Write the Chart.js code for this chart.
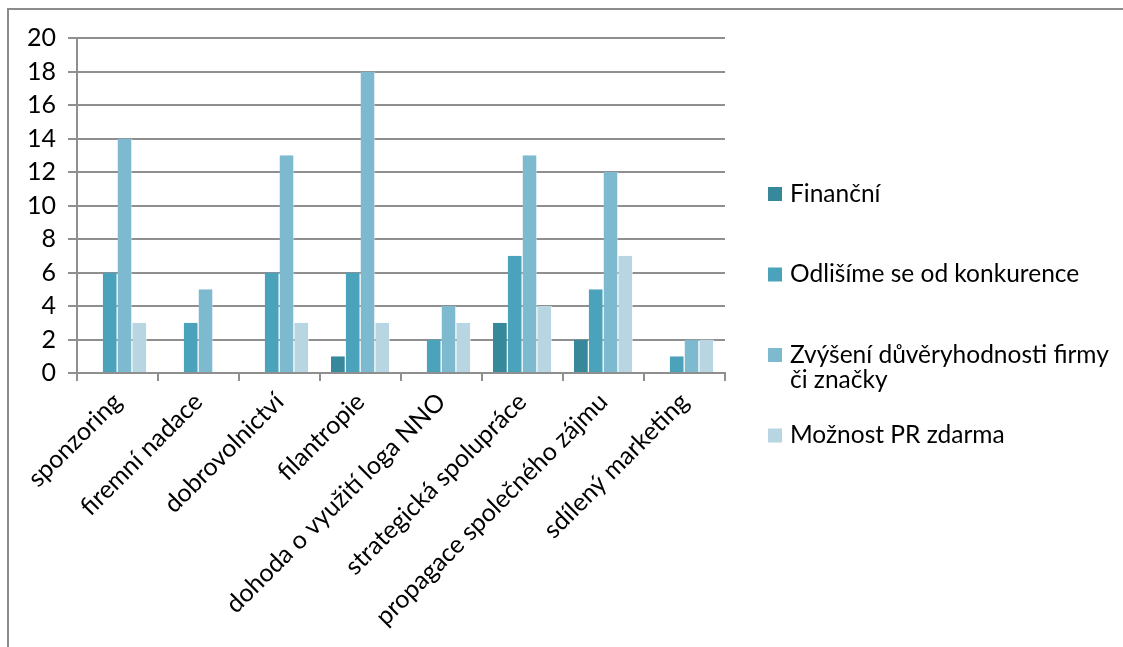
<!DOCTYPE html>
<html lang="cs">
<head>
<meta charset="utf-8">
<title>Přínosy spolupráce</title>
<script src="https://cdn.jsdelivr.net/npm/chart.js@4.4.1/dist/chart.umd.min.js"></script>
<style>
  html, body { margin: 0; padding: 0; background: #fff; }
  #wrap { position: relative; width: 1123px; height: 647px; overflow: hidden; }
  #frame {
    position: absolute; left: 7px; top: 8px; right: -10px; bottom: -10px;
    border-left: 2px solid #8c8c8c; border-top: 2px solid #8c8c8c;
    pointer-events: none;
  }
  canvas { position: absolute; left: 0; top: 0; }
</style>
</head>
<body>
<div id="wrap">
  <canvas id="chart" width="1123" height="647"></canvas>
  <div id="frame"></div>
</div>
<script>
// ============ DATA ============
const categories = [
  "sponzoring", "firemní nadace", "dobrovolnictví", "filantropie",
  "dohoda o využití loga NNO", "strategická spolupráce",
  "propagace společného zájmu", "sdílený marketing"
];
const seriesNames = [
  "Finanční", "Odlišíme se od konkurence",
  "Zvýšení důvěryhodnosti firmy či značky", "Možnost PR zdarma"
];
const financni   = [0, 0, 0, 1, 0, 3, 2, 0];
const odlisime   = [6, 3, 6, 6, 2, 7, 5, 1];
const duveryhodn = [14, 5, 13, 18, 4, 13, 12, 2];
const prZdarma   = [3, 0, 3, 3, 3, 4, 7, 2];
const yTicks = [0, 2, 4, 6, 8, 10, 12, 14, 16, 18, 20];

const COLORS = ["#38889c", "#4aa2bb", "#7ebacf", "#b8d6e1"];
const GRID = "#8f8f8f";
const FONT = "Lato";

// ============ LEGEND (right side, wrapped text) ============
const sideLegend = {
  id: "sideLegend",
  afterDraw(chart) {
    const ctx = chart.ctx;
    const x0 = 768, textX = 790, maxW = 330, lineH = 25;
    const top = 194, step = 80.5;
    ctx.save();
    ctx.font = "24.5px " + FONT;
    ctx.textBaseline = "middle";
    ctx.textAlign = "left";
    chart.data.datasets.forEach((ds, i) => {
      const y = top + i * step;
      ctx.fillStyle = ds.backgroundColor;
      ctx.fillRect(x0, y - 7, 14, 14);
      // simple word wrap
      const words = ds.label.split(" ");
      const lines = [];
      let line = "";
      words.forEach(w => {
        const test = line ? line + " " + w : w;
        if (ctx.measureText(test).width > maxW && line) { lines.push(line); line = w; }
        else line = test;
      });
      lines.push(line);
      ctx.fillStyle = "#000";
      lines.forEach((l, k) => ctx.fillText(l, textX, y + k * lineH));
    });
    ctx.restore();
  }
};

// ============ CHART ============
const seriesValues = [financni, odlisime, duveryhodn, prZdarma];

new Chart(document.getElementById("chart"), {
  type: "bar",
  plugins: [sideLegend],
  data: {
    labels: categories,
    datasets: seriesValues.map((vals, i) => ({
      label: seriesNames[i],
      data: vals,
      backgroundColor: COLORS[i],
      borderColor: "rgba(255,255,255,0.55)",
      borderWidth: { right: 1 },
      borderSkipped: "start",
      categoryPercentage: 0.73,
      barPercentage: 1
    }))
  },
  options: {
    responsive: false,
    animation: false,
    layout: { padding: { top: 38, right: 398, bottom: 0, left: 0 } },
    plugins: { legend: { display: false }, tooltip: { enabled: false } },
    scales: {
      x: {
        offset: true,
        grid: { drawOnChartArea: false, drawTicks: true, tickLength: 8, color: GRID, lineWidth: 2 },
        border: { color: GRID, width: 2 },
        ticks: {
          color: "#000", font: { family: FONT, size: 25 },
          minRotation: 45, maxRotation: 45, autoSkip: false, padding: 6
        },
        afterFit: s => { s.height = 274; }
      },
      y: {
        min: 0, max: 20,
        afterBuildTicks: s => { s.ticks = yTicks.map(v => ({ value: v })); },
        grid: { color: GRID, lineWidth: 2, tickLength: 9, drawTicks: true },
        border: { color: GRID, width: 2 },
        ticks: { color: "#000", font: { family: FONT, size: 25 }, padding: 12 },
        afterFit: s => { s.width = 77; }
      }
    }
  }
});
</script>
</body>
</html>
